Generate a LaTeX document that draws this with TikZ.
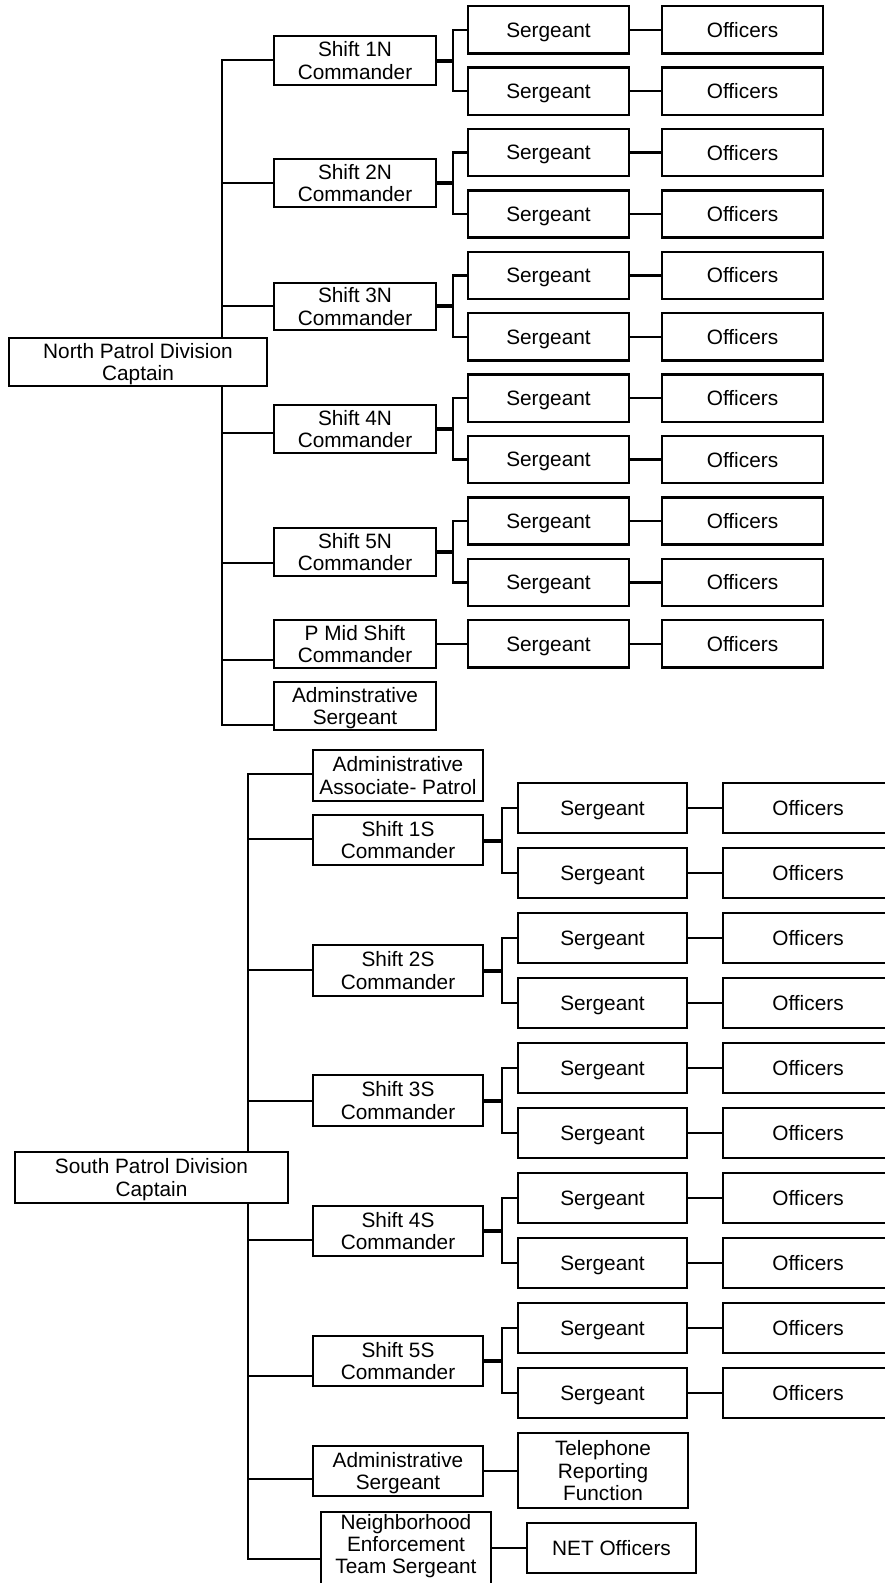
\documentclass[tikz,border=0pt]{standalone}
\usepackage{fontspec}
\setmainfont{Liberation Sans}
\newcommand\obox[7][]{\node[box,#1,minimum width={(#4)-(#2)-2.4},minimum height={(#5)-(#3)-2.4}] (#6) at ({((#2)+(#4))/2},{((#3)+(#5))/2}) {#7};}
\begin{document}
\begin{tikzpicture}[x=1pt,y=-1pt,
  box/.style={draw,line width=2.4pt,fill=white,inner sep=0pt,align=center,text depth=0pt,font=\fontsize{20.8}{22.4}\selectfont},
  conn/.style={line width=2.4pt,line cap=rect,line join=miter},
  stub/.style={line width=4pt}]
\useasboundingbox (0,0) rectangle (885,1583);
\clip (0,0) rectangle (885,1583);
% ---------------- North ----------------
\obox{8}{337}{268}{387}{ncap}{North Patrol Division\\Captain}
\obox{273}{35}{437}{86}{nsh1}{Shift 1N\\Commander}
\obox{273}{158}{437}{208}{nsh2}{Shift 2N\\Commander}
\obox{273}{282}{437}{331}{nsh3}{Shift 3N\\Commander}
\obox{273}{404}{437}{454}{nsh4}{Shift 4N\\Commander}
\obox{273}{527}{437}{577}{nsh5}{Shift 5N\\Commander}
\obox{273}{619}{437}{669}{nshp}{P Mid Shift\\Commander}
\obox{273}{681}{437}{731}{nadm}{Adminstrative\\Sergeant}
\foreach \k in {0,...,10}{
  \obox{467}{5+61.4*\k}{630}{54.5+61.4*\k}{nsg\k}{Sergeant}
  \obox{661}{5+61.4*\k}{824}{54.5+61.4*\k}{nof\k}{Officers}
  \draw[conn] (nsg\k.east) -- (nof\k.west);
}
\foreach \j/\a/\b in {1/0/1,2/2/3,3/4/5,4/6/7,5/8/9}{
  \coordinate (nf\j) at (453,{60.5+122.8*(\j-1)});
  \draw[stub] (nsh\j.east |- nf\j) -- (nf\j);
  \draw[conn] (nsg\a.west) -| (nf\j) |- (nsg\b.west);
}
\draw[conn] (nshp.east |- nsg10.west) -- (nsg10.west);
\coordinate (nt1) at (222,60);
\coordinate (nt2) at (222,183);
\coordinate (nt3) at (222,306);
\coordinate (nt4) at (222,433);
\coordinate (nt5) at (222,563);
\coordinate (nt6) at (222,660);
\coordinate (nt7) at (222,725);
\draw[conn] (nt1 -| nsh1.west) -- (nt1) -- (nt1 |- ncap.north);
\draw[conn] (nt1 |- ncap.south) -- (nt7) -- (nt7 -| nadm.west);
\foreach \i/\n in {2/nsh2,3/nsh3,4/nsh4,5/nsh5,6/nshp}{
  \draw[conn] (nt\i) -- (nt\i -| \n.west);
}
% ---------------- South ----------------
\obox{14}{1151}{289}{1204}{scap}{South Patrol Division\\Captain}
\obox{312}{749}{484}{802}{sassoc}{Administrative\\Associate- Patrol}
\obox{312}{814}{484}{866}{ssh1}{Shift 1S\\Commander}
\obox{312}{944}{484}{997}{ssh2}{Shift 2S\\Commander}
\obox{312}{1074}{484}{1127}{ssh3}{Shift 3S\\Commander}
\obox{312}{1205}{484}{1257}{ssh4}{Shift 4S\\Commander}
\obox{312}{1335}{484}{1387}{ssh5}{Shift 5S\\Commander}
\obox{312}{1445}{484}{1497}{sadm}{Administrative\\Sergeant}
\obox[text depth=16pt]{320}{1511}{492}{1593}{snet}{Neighborhood\\Enforcement\\Team Sergeant}
\obox{517}{1432}{689}{1509}{tel}{Telephone\\Reporting\\Function}
\obox{526}{1522}{697}{1574}{netof}{NET Officers}
\foreach \k in {0,...,9}{
  \obox{517}{782+65*\k}{688}{834+65*\k}{ssg\k}{Sergeant}
  \obox{722}{782+65*\k}{894}{834+65*\k}{sof\k}{Officers}
  \draw[conn] (ssg\k.east) -- (sof\k.west);
}
\foreach \j/\a/\b in {1/0/1,2/2/3,3/4/5,4/6/7,5/8/9}{
  \coordinate (sf\j) at (502,{840.5+130*(\j-1)});
  \draw[stub] (ssh\j.east |- sf\j) -- (sf\j);
  \draw[conn] (ssg\a.west) -| (sf\j) |- (ssg\b.west);
}
\draw[conn] (sadm.east) -- (tel.west |- sadm.east);
\draw[conn] (netof.west) -- (snet.east |- netof.west);
\coordinate (st1) at (248,774);
\coordinate (st2) at (248,839);
\coordinate (st3) at (248,970);
\coordinate (st4) at (248,1101);
\coordinate (st5) at (248,1240);
\coordinate (st6) at (248,1376);
\coordinate (st7) at (248,1479);
\coordinate (st8) at (248,1559);
\draw[conn] (st1 -| sassoc.west) -- (st1) -- (st1 |- scap.north);
\draw[conn] (st1 |- scap.south) -- (st8) -- (st8 -| snet.west);
\foreach \i/\n in {2/ssh1,3/ssh2,4/ssh3,5/ssh4,6/ssh5,7/sadm}{
  \draw[conn] (st\i) -- (st\i -| \n.west);
}
\end{tikzpicture}
\end{document}
